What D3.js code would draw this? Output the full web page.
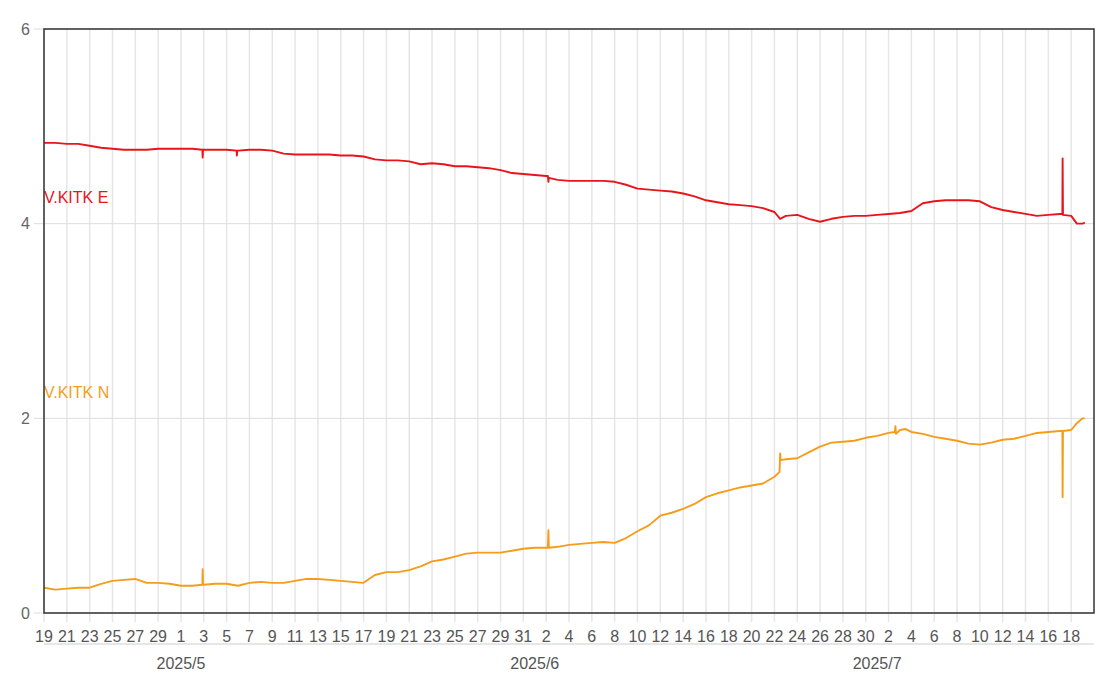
<!DOCTYPE html>
<html><head><meta charset="utf-8">
<script src="https://cdn.jsdelivr.net/npm/d3@7"></script>
<style>html,body{margin:0;padding:0;background:#fff;}svg{display:block;font-family:"Liberation Sans",Arial,sans-serif;}</style>
</head><body>
<svg id="chart" width="1111" height="700"></svg>
<script>
// ---- data ----
const startDay = "2025-04-19";
const endDay = "2025-07-20";
const yTicks = [0, 2, 4, 6];
const monthLabels = [["2025-05-01", "2025/5"], ["2025-06-01", "2025/6"], ["2025-07-01", "2025/7"]];
const seriesNames = ["V.KITK E", "V.KITK N"];
const seriesLabelY = [4.27, 2.27];
// daily values, day 0 = 2025-04-19
const eDaily = [4.83,4.83,4.82,4.82,4.80,4.78,4.77,4.76,4.76,4.76,
  4.77,4.77,4.77,4.77,4.76,4.76,4.76,4.75,4.76,4.76,
  4.75,4.72,4.71,4.71,4.71,4.71,4.70,4.70,4.69,4.66,
  4.65,4.65,4.64,4.61,4.62,4.61,4.59,4.59,4.58,4.57,
  4.55,4.52,4.51,4.50,4.49,4.45,4.44,4.44,4.44,4.44,
  4.43,4.40,4.36,4.35,4.34,4.33,4.31,4.28,4.24,4.22,
  4.20,4.19,4.18,4.16,4.12,4.08,4.09,4.05,4.02,4.05,
  4.07,4.08,4.08,4.09,4.10,4.11,4.13,4.21,4.23,4.24,
  4.24,4.24,4.23,4.17,4.14,4.12,4.10,4.08,4.09,4.10,
  4.08,4.00];
const nDaily = [0.26,0.24,0.25,0.26,0.26,0.30,0.33,0.34,0.35,0.31,
  0.31,0.30,0.28,0.28,0.29,0.30,0.30,0.28,0.31,0.32,
  0.31,0.31,0.33,0.35,0.35,0.34,0.33,0.32,0.31,0.39,
  0.42,0.42,0.44,0.48,0.53,0.55,0.58,0.61,0.62,0.62,
  0.62,0.64,0.66,0.67,0.67,0.68,0.70,0.71,0.72,0.73,
  0.72,0.77,0.84,0.90,1.00,1.03,1.07,1.12,1.19,1.23,
  1.26,1.29,1.31,1.33,1.40,1.58,1.59,1.65,1.71,1.75,
  1.76,1.77,1.80,1.82,1.85,1.88,1.86,1.84,1.81,1.79,
  1.77,1.74,1.73,1.75,1.78,1.79,1.82,1.85,1.86,1.87,
  1.88,2.00];
// extra points [day, value]
const eExtra = [[13.88,4.76],[13.9,4.68],[13.93,4.76],[16.88,4.75],[16.9,4.70],[16.93,4.75],
  [44.15,4.49],[44.2,4.43],[44.23,4.47],[64.5,4.05],[89.23,4.10],[89.25,4.67],[89.28,4.09],
  [90.5,4.00],[91.2,4.01]];
const nExtra = [[13.88,0.29],[13.9,0.45],[13.93,0.29],[44.15,0.67],[44.2,0.85],[44.23,0.67],
  [64.45,1.45],[64.5,1.64],[64.55,1.57],[74.55,1.86],[74.6,1.92],[74.65,1.84],[75.5,1.89],
  [89.23,1.87],[89.25,1.19],[89.28,1.87],[90.5,1.95],[91.2,2.00]];

// ---- layout ----
const m = {left: 44, right: 1094, top: 29, bottom: 613};
const svg = d3.select("#chart");
const parse = d3.utcParse("%Y-%m-%d");
const t0 = parse(startDay), t1 = parse(endDay);
const DAY = 864e5;
const x = d3.scaleUtc().domain([t0, t1]).range([m.left, m.right]);
const y = d3.scaleLinear().domain([0, 6]).range([m.bottom, m.top]);
const dayDate = d => new Date(+t0 + d * DAY);

function build(daily, extra) {
  const pts = daily.map((v, i) => [i, v]).concat(extra);
  pts.sort((a, b) => a[0] - b[0]);
  return pts.map(p => ({date: dayDate(p[0]), v: p[1]}));
}
const eData = build(eDaily, eExtra);
const nData = build(nDaily, nExtra);

// ticks every 2 days
const labelDays = d3.utcDay.range(t0, t1).filter((d, i) => i % 2 === 0);

// vertical grid
svg.append("g").selectAll("line").data(labelDays).join("line")
  .attr("x1", d => x(d)).attr("x2", d => x(d))
  .attr("y1", m.top).attr("y2", m.bottom + 9)
  .attr("stroke", "#e6e6e6").attr("stroke-width", 1.5);

// horizontal grid
svg.append("g").selectAll("line").data(yTicks).join("line")
  .attr("x1", m.left - 10).attr("x2", m.right)
  .attr("y1", d => y(d)).attr("y2", d => y(d))
  .attr("stroke", "#dddddd").attr("stroke-width", 1);

// y labels
svg.append("g").selectAll("text").data(yTicks).join("text")
  .attr("x", 30).attr("y", d => y(d)).attr("dy", "0.35em")
  .attr("text-anchor", "end").attr("font-size", 16).attr("fill", "#666")
  .text(d => d);

// x labels
svg.append("g").selectAll("text").data(labelDays).join("text")
  .attr("x", d => x(d)).attr("y", 642)
  .attr("text-anchor", "middle").attr("font-size", 16).attr("fill", "#555")
  .text(d => d.getUTCDate());

// separator line
svg.append("line").attr("x1", m.left).attr("x2", m.right).attr("y1", 644).attr("y2", 644)
  .attr("stroke", "#e6e6e6").attr("stroke-width", 2);

// month labels
svg.append("g").selectAll("text").data(monthLabels).join("text")
  .attr("x", d => x(parse(d[0]))).attr("y", 669)
  .attr("text-anchor", "middle").attr("font-size", 16).attr("fill", "#555")
  .text(d => d[1]);

// lines
const line = d3.line().x(d => x(d.date)).y(d => y(d.v));
const colors = ["#e8141b", "#f59d1b"];
[eData, nData].forEach((data, i) => {
  svg.append("path").datum(data).attr("d", line)
    .attr("fill", "none").attr("stroke", colors[i]).attr("stroke-width", 1.9)
    .attr("stroke-linejoin", "round");
  svg.append("text").attr("x", m.left).attr("y", y(seriesLabelY[i]) + 6)
    .attr("font-size", 16).attr("fill", colors[i]).text(seriesNames[i]);
});

// frame
svg.append("rect").attr("x", m.left).attr("y", m.top)
  .attr("width", m.right - m.left).attr("height", m.bottom - m.top)
  .attr("fill", "none").attr("stroke", "#333").attr("stroke-width", 1.5);
</script>
</body></html>
